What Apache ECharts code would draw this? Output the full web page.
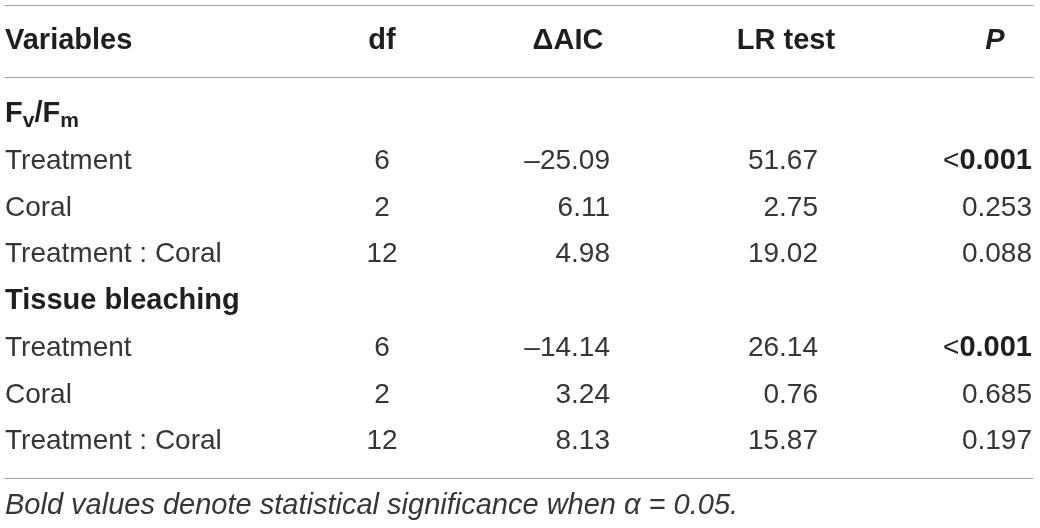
<!DOCTYPE html>
<html>
<head>
<meta charset="utf-8">
<title>Model selection: Fv/Fm and tissue bleaching</title>
<script src="https://cdn.jsdelivr.net/npm/echarts@6.0.0/dist/echarts.min.js"></script>
<style>
  html, body { margin: 0; padding: 0; background: #ffffff; }
  #main { width: 1040px; height: 528px; }
</style>
</head>
<body>
<div id="main"></div>
<script>
// table content
const headers = ['Variables', 'df', '\u0394AIC', 'LR test', 'P'];
const variables = ['Fv/Fm', 'Treatment', 'Coral', 'Treatment : Coral',
                   'Tissue bleaching', 'Treatment', 'Coral', 'Treatment : Coral'];
const groupRows = [0, 4];   // bold section headings
const df = [null, 6, 2, 12, null, 6, 2, 12];
const deltaAIC = [null, -25.09, 6.11, 4.98, null, -14.14, 3.24, 8.13];
const lrTest = [null, 51.67, 2.75, 19.02, null, 26.14, 0.76, 15.87];
const pValue = [null, '<0.001', '0.253', '0.088', null, '<0.001', '0.685', '0.197'];
const significant = [false, true, false, false, false, true, false, false];
const footnote = 'Bold values denote statistical significance when \u03b1 = 0.05.';

// layout: where each column sits on the (hidden) x axis, and how it is aligned
const FONT = '"Liberation Sans", Arial, Helvetica, sans-serif';
const INK = '#363636';
const INK_BOLD = '#1f1f1f';
const RULE = '#9d9d9d';
const BOLD_SIZE = 29;
const colAnchor = [0, 377, 605, 813, 1027];
const colAlign = ['left', 'center', 'right', 'right', 'right'];
const headAnchor = [0, 377, 563, 781, 990];

function fmtNum(v) {
  if (v == null) return '';
  const s = Math.abs(v).toFixed(2);
  return v < 0 ? '\u2013' + s : s;
}

// one entry per cell of the body
const cells = [];
variables.forEach((name, i) => {
  const bold = groupRows.indexOf(i) >= 0;
  cells.push({ col: 0, row: i, text: name, bold: bold });
  if (df[i] != null) cells.push({ col: 1, row: i, text: String(df[i]) });
  if (deltaAIC[i] != null) cells.push({ col: 2, row: i, text: fmtNum(deltaAIC[i]) });
  if (lrTest[i] != null) cells.push({ col: 3, row: i, text: fmtNum(lrTest[i]) });
  if (pValue[i] != null) cells.push({ col: 4, row: i, text: pValue[i], bold: significant[i] });
});

const richStyles = {
  b: { fontFamily: FONT, fontSize: BOLD_SIZE, fontWeight: 'bold', color: INK_BOLD, lineHeight: 34 },
  s: { fontFamily: FONT, fontSize: 21, fontWeight: 'bold', color: INK_BOLD, lineHeight: 12, verticalAlign: 'bottom' },
  n: { fontFamily: FONT, fontSize: 28, fontWeight: 'normal', color: INK, lineHeight: 34 }
};

function cellStyle(c) {
  const st = {
    fontFamily: FONT,
    fontSize: c.bold ? BOLD_SIZE : 28,
    fontWeight: c.bold ? 'bold' : 'normal',
    fill: c.bold ? INK_BOLD : INK,
    align: colAlign[c.col],
    verticalAlign: 'middle',
    text: c.text
  };
  if (c.text === 'Fv/Fm') {
    st.text = '{b|F}{s|v}{b|/F}{s|m}';
    st.rich = richStyles;
  } else if (c.bold && c.text.charAt(0) === '<') {
    st.text = '{n|<}{b|' + c.text.slice(1) + '}';
    st.rich = richStyles;
  }
  return st;
}

const ruleAxis = {
  type: 'value', min: 0, max: 1028,
  axisLine: { show: true, onZero: false, lineStyle: { color: RULE, width: 1.2 } },
  axisTick: { show: false }, axisLabel: { show: false }, splitLine: { show: false }
};

const option = {
  animation: false,
  title: {
    text: footnote,
    left: 5, top: 491, padding: 0,
    textStyle: { fontFamily: FONT, fontSize: 29, fontStyle: 'italic', fontWeight: 'normal', color: INK }
  },
  grid: [
    { left: 5, right: 7, top: 5, height: 72 },
    { left: 5, right: 7, top: 91, height: 374 }
  ],
  xAxis: [
    Object.assign({ gridIndex: 0, position: 'top' }, ruleAxis),
    Object.assign({ gridIndex: 0, position: 'bottom' }, ruleAxis),
    Object.assign({ gridIndex: 1, position: 'bottom', offset: 13 }, ruleAxis)
  ],
  yAxis: [
    { gridIndex: 0, type: 'category', data: ['header'], show: false },
    { gridIndex: 1, type: 'category', data: variables.map((v, i) => String(i)), inverse: true, show: false }
  ],
  series: [
    {
      type: 'custom',
      xAxisIndex: 0, yAxisIndex: 0,
      data: headers.map((h, i) => [headAnchor[i], 0]),
      renderItem: function (params, api) {
        const i = params.dataIndex;
        const pt = api.coord([api.value(0), api.value(1)]);
        return {
          type: 'text', x: pt[0], y: pt[1],
          style: {
            text: headers[i],
            fontFamily: FONT, fontSize: BOLD_SIZE, fontWeight: 'bold',
            fontStyle: headers[i] === 'P' ? 'italic' : 'normal',
            fill: INK_BOLD,
            align: i === 0 ? 'left' : 'center',
            verticalAlign: 'middle'
          }
        };
      }
    },
    {
      type: 'custom',
      xAxisIndex: 2, yAxisIndex: 1,
      data: cells.map(c => [colAnchor[c.col], c.row]),
      renderItem: function (params, api) {
        const c = cells[params.dataIndex];
        const pt = api.coord([api.value(0), api.value(1)]);
        return { type: 'text', x: pt[0], y: pt[1], style: cellStyle(c) };
      }
    }
  ]
};

const chart = echarts.init(document.getElementById('main'));
chart.setOption(option);
window.addEventListener('resize', () => chart.resize());
</script>
</body>
</html>
